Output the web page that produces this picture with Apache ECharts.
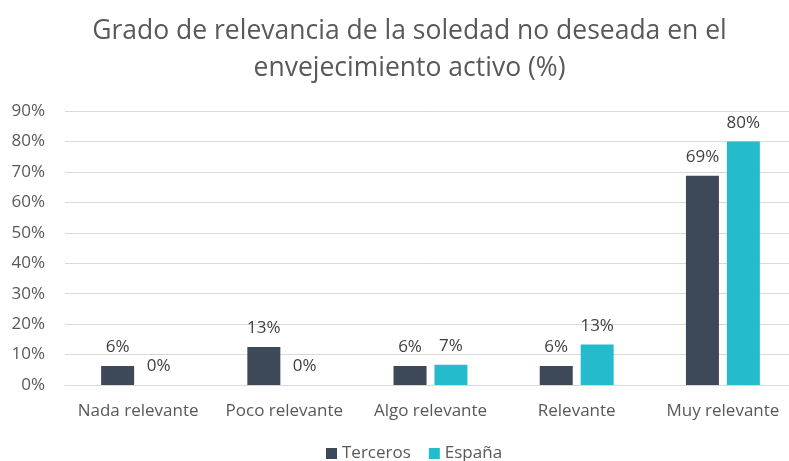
<!DOCTYPE html>
<html><head><meta charset="utf-8">
<script src="https://cdn.jsdelivr.net/npm/echarts@6/dist/echarts.min.js"></script>
<style>html,body{margin:0;padding:0;background:#fff}#c{width:789px;height:461px}</style>
</head><body><div id="c"></div>
<script>
const categories = ['Nada relevante','Poco relevante','Algo relevante','Relevante','Muy relevante'];
const terceros = [6.25, 12.5, 6.25, 6.25, 68.75];
const espana = [0, 0, 6.67, 13.33, 80];
const seriesNames = ['Terceros','España'];
const yTicks = [0,10,20,30,40,50,60,70,80,90];

const chart = echarts.init(document.getElementById('c'));
const font = '"Open Sans", sans-serif';
const lbl = {show:true, position:'top', distance:10, color:'#404040', fontSize:17, fontFamily:font,
  formatter: p => Math.round(p.value) + '%'};
chart.setOption({
  animation:false,
  title:{text:'Grado de relevancia de la soledad no deseada en el\nenvejecimiento activo (%)', left:409.5, top:13,
    padding:0, textAlign:'center',
    textStyle:{color:'#595959', fontSize:26.5, fontWeight:'normal', fontFamily:font, lineHeight:37}},
  legend:{bottom:-1, left:326, padding:0, itemWidth:11, itemHeight:11, itemGap:18, icon:'rect',
    textStyle:{color:'#595959', fontSize:17, fontFamily:font}, data:seriesNames},
  grid:{left:65, width:731, top:111, bottom:76, containLabel:false, outerBoundsMode:'none'},
  xAxis:{type:'category', data:categories, axisTick:{show:false},
    axisLine:{lineStyle:{color:'#d9d9d9'}},
    axisLabel:{color:'#595959', fontSize:17, fontFamily:font, margin:18, interval:0}},
  yAxis:{type:'value', min:yTicks[0], max:yTicks[yTicks.length-1], interval:10,
    axisLabel:{color:'#595959', fontSize:17, fontFamily:font, formatter:'{value}%', margin:20},
    splitLine:{lineStyle:{color:'#d9d9d9', width:1}}, axisLine:{show:false}, axisTick:{show:false}},
  series:[
    {name:seriesNames[0], type:'bar', data:terceros, barWidth:33, barGap:'24%', itemStyle:{color:'#3D4858'}, label:lbl},
    {name:seriesNames[1], type:'bar', data:espana, barWidth:33, itemStyle:{color:'#24BCCD'}, label:lbl}
  ]
});
</script></body></html>
